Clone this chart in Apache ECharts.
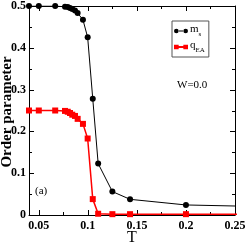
<!DOCTYPE html>
<html>
<head>
<meta charset="utf-8">
<script src="https://cdn.jsdelivr.net/npm/echarts@6/dist/echarts.min.js"></script>
<style>html,body{margin:0;padding:0;background:#fff;}#c{width:245px;height:245px;background:#fff;}</style>
</head>
<body>
<div id="c"></div>
<script>
// Data
const temps = [0.04, 0.05, 0.0667, 0.0767, 0.0795, 0.0818, 0.0841, 0.0869, 0.0896, 0.095, 0.0998, 0.105, 0.1105, 0.125, 0.143, 0.2, 0.3];
const msValues = [0.5, 0.5, 0.5, 0.498, 0.4975, 0.495, 0.493, 0.489, 0.483, 0.467, 0.425, 0.278, 0.123, 0.056, 0.0375, 0.024, 0.019];
const qeaValues = [0.25, 0.25, 0.25, 0.249, 0.247, 0.244, 0.240, 0.237, 0.230, 0.218, 0.183, 0.038, 0.003, 0.002, 0.002, 0.002, 0.002];
const xMajorTicks = [0.05, 0.1, 0.15, 0.2, 0.25];
const xMinorTicks = [0.075, 0.125, 0.175, 0.225];
const yMajorTicks = [0.1, 0.2, 0.3, 0.4];
const yMinorTicks = [0.05, 0.15, 0.25, 0.35, 0.45];
const yTickLabels = ['0', '0.1', '0.2', '0.3', '0.4', '0.5'];

const FONT = 'Liberation Serif';
const black = '#000';
const X_MIN = 0.04, X_MAX = 0.25, Y_MIN = 0, Y_MAX = 0.5;
const chart = echarts.init(document.getElementById('c'));

const ls = () => ({color: black, width: 1});
function xAxisCfg(pos, showLabel) {
  const cfg = {
    type: 'value', min: X_MIN, max: X_MAX,
    axisLine: {show: true, onZero: false, lineStyle: ls()},
    axisTick: {show: false},
    axisLabel: {show: showLabel, customValues: xMajorTicks, margin: 5, color: black, fontFamily: FONT, fontWeight: 'bold', fontSize: 12,
      formatter: v => String(+v.toFixed(3))},
    splitLine: {show: false}
  };
  if (pos === 'top') cfg.position = 'top';
  return cfg;
}
function yAxisCfg(pos, showLabel) {
  const cfg = {
    type: 'value', min: Y_MIN, max: Y_MAX, interval: 0.1,
    axisLine: {show: true, onZero: false, lineStyle: ls()},
    axisTick: {show: false},
    axisLabel: {show: showLabel, margin: 3, color: black, fontFamily: FONT, fontWeight: 'bold', fontSize: 12,
      formatter: v => yTickLabels[Math.round(v * 10)]},
    splitLine: {show: false}
  };
  if (pos === 'right') cfg.position = 'right';
  return cfg;
}

// inward tick marks drawn through the axes' own scales
const tickStyle = {stroke: black, lineWidth: 1};
function xTickRender(params, api) {
  const v = api.value(0), len = api.value(2);
  const b = api.coord([v, Y_MIN]), t = api.coord([v, Y_MAX]);
  const x = Math.round(b[0]) + 0.5;
  return {type: 'group', children: [
    {type: 'line', shape: {x1: x, y1: b[1], x2: x, y2: b[1] - len}, style: tickStyle},
    {type: 'line', shape: {x1: x, y1: t[1], x2: x, y2: t[1] + len}, style: tickStyle}
  ]};
}
function yTickRender(params, api) {
  const v = api.value(1), len = api.value(2);
  const l = api.coord([X_MIN, v]), r = api.coord([X_MAX, v]);
  const y = Math.round(l[1]) + 0.5;
  return {type: 'group', children: [
    {type: 'line', shape: {x1: l[0], y1: y, x2: l[0] + len, y2: y}, style: tickStyle},
    {type: 'line', shape: {x1: r[0], y1: y, x2: r[0] - len, y2: y}, style: tickStyle}
  ]};
}
const xTickData = xMajorTicks.map(v => [v, Y_MIN, 5]).concat(xMinorTicks.map(v => [v, Y_MIN, 3]));
const yTickData = yMajorTicks.map(v => [X_MIN, v, 5]).concat(yMinorTicks.map(v => [X_MIN, v, 3]));

chart.setOption({
  animation: false,
  grid: {left: 29, right: 10, top: 6, bottom: 30, outerBoundsMode: 'none'},
  xAxis: [xAxisCfg('bottom', true), xAxisCfg('top', false)],
  yAxis: [yAxisCfg('left', true), yAxisCfg('right', false)],
  legend: {
    left: 172, top: 21, orient: 'vertical',
    padding: [3, 4, 3, 2], itemGap: 2, itemWidth: 14, itemHeight: 5,
    borderColor: '#555', borderWidth: 1,
    data: [
      {name: 'ms', icon: 'path://M0,5a5,5 0 1,0 10,0a5,5 0 1,0 -10,0zM9,4h12v2h-12zM20,5a5,5 0 1,0 10,0a5,5 0 1,0 -10,0z'},
      {name: 'qEA', icon: 'path://M0,0h10v10h-10zM9,3h12v4h-12zM20,0h10v10h-10z'}
    ],
    formatter: n => n === 'ms' ? '{a|m}{b|s}' : '{a|q}{b|EA}',
    textStyle: {fontFamily: FONT, color: black, padding: [0, 0, 0, -3],
      rich: {a: {fontSize: 11, fontFamily: FONT, verticalAlign: 'top', lineHeight: 14},
             b: {fontSize: 7, fontFamily: FONT, verticalAlign: 'bottom', lineHeight: 14}}}
  },
  graphic: [
    {type: 'text', left: 177, top: 80, style: {text: 'W=0.0', fontFamily: FONT, fontSize: 11, fill: black}},
    {type: 'text', left: 35, top: 186, style: {text: '(a)', fontFamily: FONT, fontSize: 11, fill: black}},
    {type: 'text', x: 7, y: 112, rotation: Math.PI / 2,
     style: {text: 'Order parameter', fontFamily: FONT, fontSize: 15, fontWeight: 'bold', fill: black, align: 'center', verticalAlign: 'middle'}},
    {type: 'text', x: 132, y: 238,
     style: {text: 'T', fontFamily: FONT, fontSize: 16, fill: black, align: 'center', verticalAlign: 'middle'}}
  ],
  series: [
    {name: 'xticks', type: 'custom', renderItem: xTickRender, data: xTickData, encode: {x: 0, y: 1}, silent: true, z: 3},
    {name: 'yticks', type: 'custom', renderItem: yTickRender, data: yTickData, encode: {x: 0, y: 1}, silent: true, z: 3},
    {name: 'ms', type: 'line', clip: true, symbol: 'circle', symbolSize: 6,
     itemStyle: {color: black}, lineStyle: {color: black, width: 1},
     data: temps.map((t, i) => [t, msValues[i]])},
    {name: 'qEA', type: 'line', clip: true, symbol: 'rect', symbolSize: 6,
     itemStyle: {color: '#ff0000'}, lineStyle: {color: '#ff0000', width: 1.5},
     data: temps.map((t, i) => [t, qeaValues[i]])}
  ]
});
</script>
</body>
</html>
